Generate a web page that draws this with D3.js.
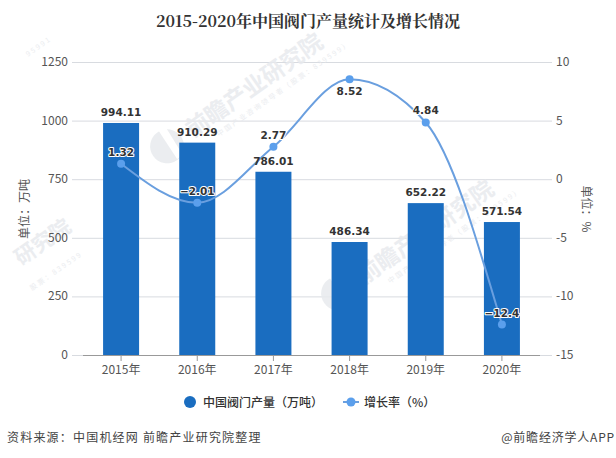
<!DOCTYPE html>
<html>
<head>
<meta charset="utf-8">
<script src="https://cdnjs.cloudflare.com/ajax/libs/d3/7.8.5/d3.min.js"></script>
<style>
  html, body { margin: 0; padding: 0; background: #fff; }
  svg { display: block; font-family: "Noto Sans CJK SC", "DejaVu Sans", sans-serif; }
  .tick-label { font-size: 12px; fill: #555; }
  .value-label { font-size: 10.5px; font-weight: 700; fill: #333; font-family: "DejaVu Sans", sans-serif; }
  .halo { paint-order: stroke; stroke: #fff; stroke-width: 2px; stroke-linejoin: round; }
</style>
</head>
<body>
<script>
const years = ['2015年', '2016年', '2017年', '2018年', '2019年', '2020年'];
const output = [994.11, 910.29, 786.01, 486.34, 652.22, 571.54];
const growth = [1.32, -2.01, 2.77, 8.52, 4.84, -12.4];
const growthLabels = ['1.32', '−2.01', '2.77', '8.52', '4.84', '−12.4'];
const outputTicks = [0, 250, 500, 750, 1000, 1250];
const growthTicks = [-15, -10, -5, 0, 5, 10];

const width = 616;
const height = 458;
const barBlue = '#1a6dc0';
const lineBlue = '#6a9fdf';
const dotBlue = '#5b9fec';

const svg = d3.select('body').append('svg')
  .attr('width', width)
  .attr('height', height);

const x = d3.scaleBand().domain(years).range([83, 540]);
const yLeft = d3.scaleLinear().domain([0, 1250]).range([355, 62]);
const yRight = d3.scaleLinear().domain([-15, 10]).range([355, 62]);
const cx = d => x(d) + x.bandwidth() / 2;

// title
svg.append('text')
  .attr('x', 308).attr('y', 27)
  .attr('text-anchor', 'middle')
  .attr('font-family', '"Noto Serif CJK SC", "Noto Sans CJK SC", sans-serif')
  .attr('font-size', 16).attr('font-weight', 700).attr('fill', '#333')
  .text('2015-2020年中国阀门产量统计及增长情况');

// gridlines
svg.append('g').selectAll('line').data(outputTicks.slice(1))
  .enter().append('line')
    .attr('x1', 72).attr('x2', 552)
    .attr('y1', d => yLeft(d) + 0.5).attr('y2', d => yLeft(d) + 0.5)
    .attr('stroke', '#d8dbe0');
svg.append('line')
  .attr('x1', 72).attr('x2', 552).attr('y1', 355.5).attr('y2', 355.5)
  .attr('stroke', '#d8dbe0');

// watermarks sit on top of the grid but under the bars
function watermark(tx, ty, text, small, logo, size) {
  const g = svg.append('g')
    .attr('transform', `translate(${tx},${ty}) rotate(-35)`)
    .attr('fill', '#e8eaee').attr('opacity', 0.85);
  if (logo) {
    g.append('circle').attr('cx', -26).attr('cy', -8).attr('r', 17).attr('fill', '#e8ebee');
    g.append('path').attr('d', 'M-24,-26L-16,-26L-18,8L-25,8Z').attr('fill', '#fff');
  }
  if (text) g.append('text').attr('font-size', size || 23).attr('font-weight', 700).text(text);
  if (small) g.append('text').attr('x', 22).attr('y', 14).attr('font-size', 7).attr('letter-spacing', 2).text(small);
}
watermark(193, 138, '前瞻产业研究院', '中国产业咨询领导者（股票：839599）', true);
watermark(364, 285, '前瞻产业研究院', '中国产业咨询领导者（股票：839599）', true);
watermark(21, 266, '研究院', '', false, 21);
watermark(6, 292, '', '股票：839599', false);
watermark(2, 58, '', '95991', false);

// bars, tops nudged 1px to sit where the reference rasterised them
svg.append('g').selectAll('rect').data(output)
  .enter().append('rect')
    .attr('x', (d, i) => cx(years[i]) - 18)
    .attr('y', d => yLeft(d) + 1)
    .attr('width', 36)
    .attr('height', d => yLeft(0) - yLeft(d) - 1)
    .attr('fill', barBlue);

// baseline and ticks
svg.append('line')
  .attr('x1', 83).attr('x2', 540).attr('y1', 355.5).attr('y2', 355.5)
  .attr('stroke', '#999');
svg.append('g').selectAll('line').data(years)
  .enter().append('line')
    .attr('x1', d => cx(d)).attr('x2', d => cx(d))
    .attr('y1', 355).attr('y2', 361)
    .attr('stroke', '#999');

// axis labels
svg.append('g').selectAll('text').data(outputTicks)
  .enter().append('text')
    .attr('class', 'tick-label')
    .attr('x', 68).attr('y', d => yLeft(d) + 4)
    .attr('text-anchor', 'end')
    .text(d => d);
svg.append('g').selectAll('text').data(growthTicks)
  .enter().append('text')
    .attr('class', 'tick-label')
    .attr('x', 556).attr('y', d => yRight(d) + 4)
    .text(d => d);
svg.append('g').selectAll('text').data(years)
  .enter().append('text')
    .attr('class', 'tick-label')
    .attr('x', d => cx(d)).attr('y', 374)
    .attr('text-anchor', 'middle')
    .text(d => d);

svg.append('text')
  .attr('class', 'tick-label')
  .attr('transform', 'translate(29,209) rotate(-90)')
  .attr('text-anchor', 'middle')
  .text('单位：万吨');
svg.append('text')
  .attr('class', 'tick-label')
  .attr('transform', 'translate(582,209) rotate(90)')
  .attr('text-anchor', 'middle')
  .text('单位：%');

// growth line
const line = d3.line()
  .x((d, i) => cx(years[i]))
  .y(d => yRight(d))
  .curve(d3.curveMonotoneX);
svg.append('path')
  .attr('d', line(growth))
  .attr('fill', 'none')
  .attr('stroke', lineBlue)
  .attr('stroke-width', 2);
svg.append('g').selectAll('circle').data(growth)
  .enter().append('circle')
    .attr('cx', (d, i) => cx(years[i]))
    .attr('cy', d => yRight(d))
    .attr('r', 4)
    .attr('fill', dotBlue);

// bar value labels
svg.append('g').selectAll('text').data(output)
  .enter().append('text')
    .attr('class', 'value-label')
    .attr('x', (d, i) => cx(years[i]))
    .attr('y', d => yLeft(d) - 6)
    .attr('text-anchor', 'middle')
    .text(d => d.toFixed(2));

// growth value labels, 8.52 is the only one below its point
svg.append('g').selectAll('text').data(growth)
  .enter().append('text')
    .attr('class', 'value-label halo')
    .attr('x', (d, i) => cx(years[i]))
    .attr('y', (d, i) => yRight(d) + (i === 3 ? 16 : -8))
    .attr('text-anchor', 'middle')
    .text((d, i) => growthLabels[i]);

// legend
svg.append('circle').attr('cx', 190).attr('cy', 402).attr('r', 6).attr('fill', barBlue);
svg.append('text').attr('x', 203).attr('y', 407)
  .attr('font-size', 12).attr('font-weight', 500).attr('fill', '#333')
  .text('中国阀门产量（万吨）');
svg.append('line').attr('x1', 343).attr('x2', 359).attr('y1', 402).attr('y2', 402)
  .attr('stroke', lineBlue).attr('stroke-width', 2);
svg.append('circle').attr('cx', 351).attr('cy', 402).attr('r', 4.5).attr('fill', dotBlue);
svg.append('text').attr('x', 364).attr('y', 407)
  .attr('font-size', 12).attr('font-weight', 500).attr('fill', '#333')
  .text('增长率（%）');

// source and credit
svg.append('text').attr('x', 7).attr('y', 442)
  .attr('font-size', 12).attr('fill', '#444').attr('letter-spacing', 1.2)
  .text('资料来源：中国机经网 前瞻产业研究院整理');
svg.append('text').attr('x', 615).attr('y', 442)
  .attr('text-anchor', 'end')
  .attr('font-size', 12).attr('fill', '#444').attr('letter-spacing', 0.8)
  .text('@前瞻经济学人APP');
</script>
</body>
</html>
